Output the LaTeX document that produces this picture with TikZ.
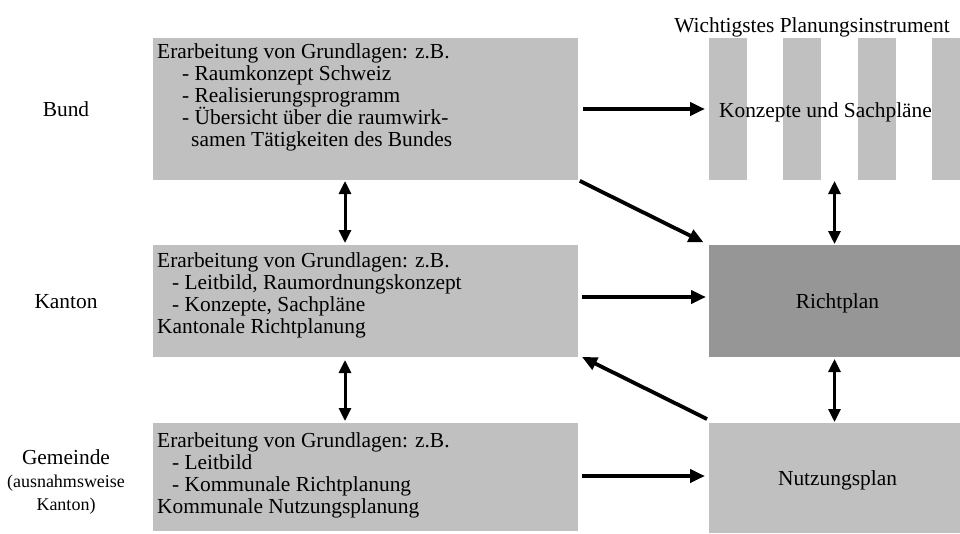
\documentclass[tikz,border=0pt]{standalone}
\usepackage{fontspec}
\setmainfont{Liberation Serif}
\usetikzlibrary{arrows.meta}
\definecolor{boxgray}{RGB}{192,192,192}
\definecolor{richtgray}{RGB}{150,150,150}
\begin{document}
\begin{tikzpicture}[x=1pt,y=-1pt,
  box/.style={fill=boxgray, draw=none, inner sep=0pt, outer sep=0pt},
  txt/.style={font=\fontsize{21.4}{22}\selectfont, inner sep=0pt, align=left},
  lbl/.style={font=\fontsize{21.4}{22}\selectfont, inner sep=0pt},
  smalllbl/.style={font=\fontsize{18}{20}\selectfont, inner sep=0pt},
  arr/.style={line width=3.8pt, -{Triangle[length=15pt,width=13pt]}},
  darr/.style={line width=3pt, {Triangle[length=13pt,width=12pt]}-{Triangle[length=13pt,width=12pt]}}]
\useasboundingbox (0,0) rectangle (960,533);

% left boxes
\node[box, minimum width=425pt, minimum height=142pt] (bund) at (365.5,109) {};
\node[box, minimum width=425pt, minimum height=112pt] (kanton) at (365.5,301) {};
\node[box, minimum width=425pt, minimum height=108pt] (gemeinde) at (365.5,477) {};

% right boxes
\fill[boxgray] (709,38) rectangle (747,180);
\fill[boxgray] (783,38) rectangle (821,180);
\fill[boxgray] (858,38) rectangle (896,180);
\fill[boxgray] (932,38) rectangle (960,180);
\node[inner sep=0pt, outer sep=0pt, minimum width=251pt, minimum height=142pt] (konz) at (834.5,109) {};
\node[box, fill=richtgray, minimum width=251pt, minimum height=112pt] (richt) at (834.5,301) {};
\node[box, minimum width=251pt, minimum height=110pt] (nutz) at (834.5,478) {};

% texts in left boxes (base anchor = baseline of last line)
\node[txt, anchor=base west] (bundtxt) at (157,146) {Erarbeitung von Grundlagen: z.B.\\
\hspace*{25pt}- Raumkonzept Schweiz\\
\hspace*{25pt}- Realisierungsprogramm\\
\hspace*{25pt}- Übersicht über die raumwirk-\\
\hspace*{34pt}samen Tätigkeiten des Bundes};
\node[txt, anchor=base west] (kantontxt) at (157,333) {Erarbeitung von Grundlagen: z.B.\\
\hspace*{15pt}- Leitbild, Raumordnungskonzept\\
\hspace*{15pt}- Konzepte, Sachpläne\\
Kantonale Richtplanung};
\node[txt, anchor=base west] (gemeindetxt) at (157,513) {Erarbeitung von Grundlagen: z.B.\\
\hspace*{15pt}- Leitbild\\
\hspace*{15pt}- Kommunale Richtplanung\\
Kommunale Nutzungsplanung};

% left labels
\node[lbl, anchor=base] (lbund) at (66,116) {Bund};
\node[lbl, anchor=base] (lkanton) at (66,308) {Kanton};
\node[lbl, anchor=base] (lgem) at (66,464) {Gemeinde};
\node[smalllbl, anchor=base] (lgem2) at (66,487) {(ausnahmsweise};
\node[smalllbl, anchor=base] (lgem3) at (66,510) {Kanton)};

% right labels
\node[lbl, anchor=base east] (title) at (950,32) {Wichtigstes Planungsinstrument};
\node[lbl, anchor=base] (konztxt) at (825.5,117) {Konzepte und Sachpläne};
\node[lbl, anchor=base] (richttxt) at (837.5,308) {Richtplan};
\node[lbl, anchor=base] (nutztxt) at (837.5,485) {Nutzungsplan};

% arrows
\draw[arr] ([xshift=5pt]bund.east) -- ([xshift=-4pt]konz.west);
\draw[arr] ([shift={(4pt,4pt)}]kanton.east) -- ([shift={(-3pt,4pt)}]richt.west);
\draw[arr] ([shift={(4pt,1pt)}]gemeinde.east) -- ([shift={(-4pt,2pt)}]nutz.west);
\draw[arr, shorten <=2pt, shorten >=6pt] (bund.south east) -- (richt.north west);
\draw[arr] ([shift={(-2pt,4pt)}]nutz.north west) -- ([xshift=4pt]kanton.south east);

\draw[darr] ([xshift=-20.5pt,yshift=-1pt]bund.south) -- ([xshift=-20.5pt,yshift=2pt]kanton.north);
\draw[darr] ([xshift=-20.5pt,yshift=-3pt]kanton.south) -- ([xshift=-20.5pt,yshift=2pt]gemeinde.north);
\draw[darr] ([yshift=-1pt]konz.south) -- ([yshift=1pt]richt.north);
\draw[darr] ([yshift=-2pt]richt.south) -- ([yshift=1pt]nutz.north);
\end{tikzpicture}
\end{document}
